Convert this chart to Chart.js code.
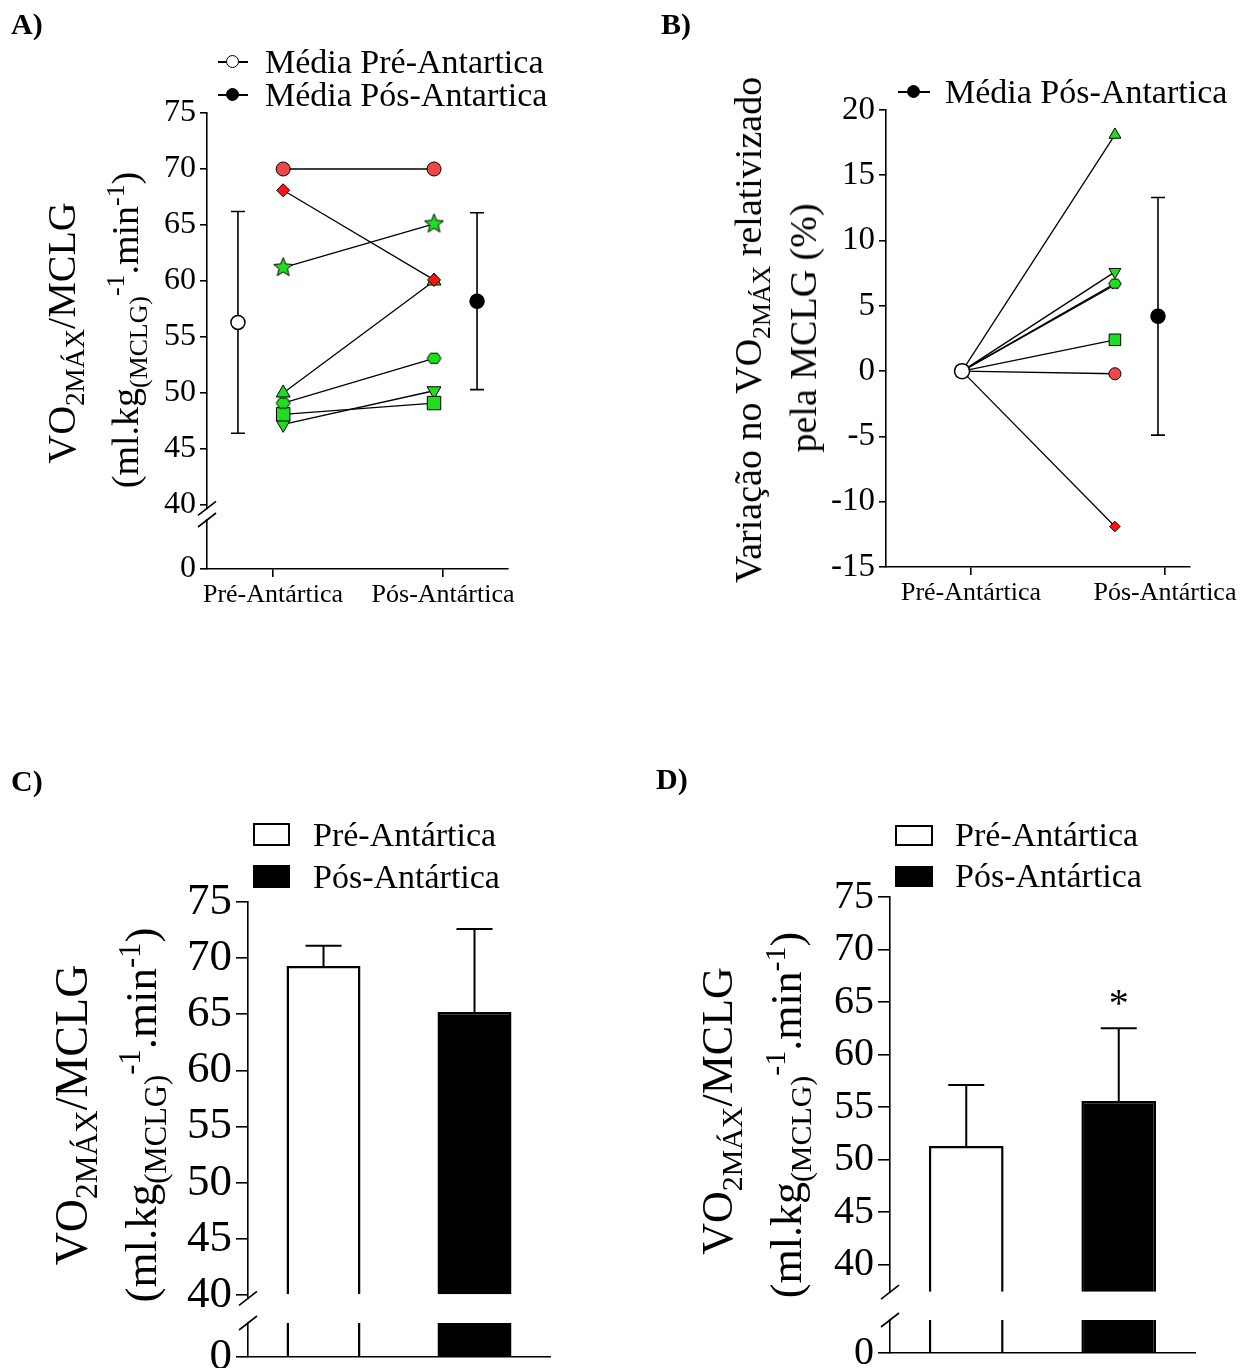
<!DOCTYPE html>
<html>
<head>
<meta charset="utf-8">
<script src="https://cdn.jsdelivr.net/npm/chart.js@4.4.1/dist/chart.umd.min.js"></script>
<style>
  html, body { margin: 0; padding: 0; background: #fff; }
  body { position: relative; width: 1254px; height: 1368px; overflow: hidden;
         font-family: "Liberation Serif", "Times New Roman", serif; color: #000; }
  canvas { position: absolute; }
  .tag { position: absolute; font-weight: bold; font-size: 30px; line-height: 1; }
  .yt { position: absolute; white-space: nowrap; line-height: 1;
        transform: translate(-50%, -50%) rotate(-90deg); }
  .yt sub, .yt sup { font-size: 68%; line-height: 0; }
  .leg { position: absolute; white-space: nowrap; font-size: 34px; line-height: 1; }
  .lline { position: absolute; height: 0; border-top: 2px solid #000; }
  .ldot { position: absolute; width: 11px; height: 11px; border: 1.5px solid #000; border-radius: 50%; }
  .lbox { position: absolute; box-sizing: border-box; border: 2px solid #000; }
</style>
</head>
<body>

<div class="tag" style="left:11px;top:9px">A)</div>
<div class="tag" style="left:661px;top:9px">B)</div>
<div class="tag" style="left:11px;top:766px">C)</div>
<div class="tag" style="left:656px;top:764px">D)</div>

<!-- axis titles -->
<div class="yt" style="left:62px;top:333px;font-size:40px">VO<sub>2MÁX</sub>/MCLG</div>
<div class="yt" style="left:125px;top:330px;font-size:38px">(ml.kg<sub>(MCLG)</sub><sup>-1</sup>.min<sup>-1</sup>)</div>
<div class="yt" style="left:748px;top:330px;font-size:38px">Variação no VO<sub>2MÁX</sub> relativizado</div>
<div class="yt" style="left:803px;top:328px;font-size:38px">pela MCLG (%)</div>
<div class="yt" style="left:72px;top:1115px;font-size:46px">VO<sub>2MÁX</sub>/MCLG</div>
<div class="yt" style="left:141px;top:1115px;font-size:45px">(ml.kg<sub>(MCLG)</sub><sup>-1</sup>.min<sup>-1</sup>)</div>
<div class="yt" style="left:718px;top:1111px;font-size:44px">VO<sub>2MÁX</sub>/MCLG</div>
<div class="yt" style="left:787px;top:1115px;font-size:44px">(ml.kg<sub>(MCLG)</sub><sup>-1</sup>.min<sup>-1</sup>)</div>

<!-- legends -->
<div class="lline" style="left:218px;top:61px;width:30px"></div>
<div class="ldot" style="left:226px;top:55px;background:#fff"></div>
<div class="leg" style="left:265px;top:45px">Média Pré-Antartica</div>
<div class="lline" style="left:218px;top:94px;width:30px"></div>
<div class="ldot" style="left:226px;top:88px;background:#000"></div>
<div class="leg" style="left:265px;top:78px">Média Pós-Antartica</div>

<div class="lline" style="left:898px;top:91px;width:32px"></div>
<div class="ldot" style="left:907px;top:85px;background:#000"></div>
<div class="leg" style="left:945px;top:75px">Média Pós-Antartica</div>

<div class="lbox" style="left:253px;top:823px;width:37px;height:23px;background:#fff"></div>
<div class="leg" style="left:313px;top:818px">Pré-Antártica</div>
<div class="lbox" style="left:253px;top:865px;width:37px;height:23px;background:#000"></div>
<div class="leg" style="left:313px;top:860px">Pós-Antártica</div>

<div class="lbox" style="left:895px;top:825px;width:38px;height:21px;background:#fff"></div>
<div class="leg" style="left:955px;top:818px">Pré-Antártica</div>
<div class="lbox" style="left:895px;top:866px;width:38px;height:21px;background:#000"></div>
<div class="leg" style="left:955px;top:859px">Pós-Antártica</div>

<script>
// ---------- data ----------
var groups = ["Pré-Antártica", "Pós-Antártica"];

// A) individual VO2max/MCLG, same subject order in every panel
var preA  = [70, 68.1, 61.2, 50, 49.1, 48.1, 47.2];
var postA = [70, 60.1, 65.1, 60, 53.1, 49.1, 50.2];
var meanA = [56.3, 58.2];
var sdA   = [9.9, 7.9];

// B) % change after the expedition
var baseB  = [0];
var deltaB = [-0.2, -11.9, 6.6, 18.1, 6.7, 2.4, 7.6];
var meanB  = [4.2];
var sdB    = [9.1];

// C) and D) group means
var meanC = [69.3, 65.2];
var sdC   = [1.8, 7.4];
var meanD = [51.3, 55.6];
var sdD   = [5.8, 6.9];
var sigD  = ["", "*"];

var ticksUpper = [40, 45, 50, 55, 60, 65, 70, 75];
var ticksLower = [0];
var ticksB = [-15, -10, -5, 0, 5, 10, 15, 20];

// ---------- styling ----------
var SERIF = '"Liberation Serif", "Times New Roman", serif';
var GREEN = "#1fdd1f", RED = "#f04848", RED_D = "#ff1212";
Chart.defaults.font.family = SERIF;
Chart.defaults.color = "#000";

function starImg(R, r, fill) {
  var s = Math.ceil(2 * R + 3), c = document.createElement("canvas");
  c.width = c.height = s;
  var g = c.getContext("2d");
  g.translate(s / 2, s / 2);
  g.beginPath();
  for (var k = 0; k < 10; k++) {
    var a = -Math.PI / 2 + k * Math.PI / 5, rr = k % 2 ? r : R;
    g.lineTo(rr * Math.cos(a), rr * Math.sin(a));
  }
  g.closePath();
  g.fillStyle = fill; g.fill();
  g.strokeStyle = "#000"; g.lineWidth = 1; g.stroke();
  return c;
}
function hexImg(R, fill) {
  var s = Math.ceil(2 * R + 3), c = document.createElement("canvas");
  c.width = c.height = s;
  var g = c.getContext("2d");
  g.translate(s / 2, s / 2);
  g.beginPath();
  for (var k = 0; k < 6; k++) {
    var a = k * Math.PI / 3;
    g.lineTo(R * Math.cos(a), R * 0.85 * Math.sin(a));
  }
  g.closePath();
  g.fillStyle = fill; g.fill();
  g.strokeStyle = "#000"; g.lineWidth = 1; g.stroke();
  return c;
}

// one marker per subject
var markers = [
  { style: "circle", r: 7, fill: RED },
  { style: "rectRot", r: 6.5, fill: RED_D },
  { img: function (k) { return starImg(10 * k, 4.4 * k, GREEN); }, r: 10, fill: GREEN },
  { style: "triangle", r: 8, fill: GREEN },
  { img: function (k) { return hexImg(7 * k, GREEN); }, r: 7, fill: GREEN },
  { style: "rect", r: 9.5, fill: GREEN },
  { style: "triangle", rot: 180, r: 8, fill: GREEN }
];

function subjectSets(pre, post, xPre, xPost, sizes, orders) {
  return post.map(function (v, i) {
    var m = markers[i], k = sizes[i];
    return {
      yAxisID: "y",
      data: [{ x: xPre, y: pre[i] }, { x: xPost, y: v }],
      showLine: true, borderColor: "#000", borderWidth: 1.3,
      pointStyle: m.img ? m.img(k) : m.style,
      pointRotation: m.rot || 0,
      pointRadius: m.r * k,
      pointBackgroundColor: m.fill, pointBorderColor: "#000", pointBorderWidth: 1,
      order: orders ? orders[i] : 0
    };
  });
}

// ---------- plugins ----------
var errorBars = {
  id: "errorBars",
  beforeDatasetDraw: function (chart, args) {
    var ds = chart.data.datasets[args.index];
    if (!ds.sd) return;
    var meta = args.meta, ys = chart.scales[meta.yAxisID], ctx = chart.ctx;
    ctx.save();
    ctx.strokeStyle = "#000";
    ctx.lineWidth = ds.errWidth || 1.6;
    meta.data.forEach(function (el, i) {
      var v = meta.controller.getParsed(i).y;
      var top = ys.getPixelForValue(v + ds.sd[i]);
      var bot = ds.errDown ? ys.getPixelForValue(v - ds.sd[i]) : el.y;
      var w = ds.capWidth / 2;
      ctx.beginPath();
      ctx.moveTo(el.x, bot); ctx.lineTo(el.x, top);
      ctx.moveTo(el.x - w, top); ctx.lineTo(el.x + w, top);
      if (ds.errDown) { ctx.moveTo(el.x - w, bot); ctx.lineTo(el.x + w, bot); }
      ctx.stroke();
    });
    ctx.restore();
  },
  afterDatasetsDraw: function (chart) {
    var ctx = chart.ctx;
    chart.data.datasets.forEach(function (ds, di) {
      if (!ds.sig) return;
      var meta = chart.getDatasetMeta(di), ys = chart.scales[meta.yAxisID];
      meta.data.forEach(function (el, i) {
        if (!ds.sig[i]) return;
        var v = meta.controller.getParsed(i).y;
        ctx.save();
        ctx.font = "40px " + SERIF;
        ctx.textAlign = "center";
        ctx.textBaseline = "alphabetic";
        ctx.fillStyle = "#000";
        ctx.fillText(ds.sig[i], el.x, ys.getPixelForValue(v + ds.sd[i]) - 12);
        ctx.restore();
      });
    });
  }
};

// bars on the lower part of a broken axis are cut at that part's top
var clipLow = {
  id: "clipLow",
  beforeDatasetDraw: function (chart, args) {
    if (args.meta.yAxisID !== "yLow") return;
    var s = chart.scales.yLow, a = chart.chartArea, ctx = chart.ctx;
    ctx.save();
    ctx.beginPath();
    ctx.rect(a.left, s.top, a.right - a.left, s.bottom - s.top - 1);
    ctx.clip();
  },
  afterDatasetDraw: function (chart, args) {
    if (args.meta.yAxisID === "yLow") chart.ctx.restore();
  }
};

var axisBreak = {
  id: "axisBreak",
  afterDraw: function (chart, args, opts) {
    var hi = chart.scales.y, lo = chart.scales.yLow, ctx = chart.ctx;
    var x = hi.right;
    var y1 = hi.getPixelForValue(opts.at), y2 = lo.top;
    ctx.save();
    ctx.fillStyle = "#fff";
    ctx.fillRect(x - 4, y1 + 1, 8, y2 - y1 - 2);
    ctx.strokeStyle = "#000";
    ctx.lineWidth = 1.6;
    [y1, y2].forEach(function (yy) {
      ctx.beginPath();
      ctx.moveTo(x - 9, yy + 7);
      ctx.lineTo(x + 9, yy - 7);
      ctx.stroke();
    });
    ctx.restore();
  }
};

// ---------- helpers ----------
function mount(box) {
  var c = document.createElement("canvas");
  c.width = box.w; c.height = box.h;
  c.style.left = box.x + "px"; c.style.top = box.y + "px";
  c.style.width = box.w + "px"; c.style.height = box.h + "px";
  document.body.insertBefore(c, document.body.firstChild);
  return c.getContext("2d");
}
function frame(box, area) {
  return {
    padding: { top: area.top - box.y, right: box.x + box.w - area.right, left: 0, bottom: 0 },
    yWidth: area.left - box.x,
    xHeight: box.y + box.h - area.bottom
  };
}
function yAxis(o) {
  return {
    type: "linear", position: "left", min: o.min, max: o.max,
    stack: o.stack, stackWeight: o.weight, weight: o.order || 0,
    border: { color: "#000", width: 1.6 },
    grid: { drawOnChartArea: false, color: "#000", lineWidth: 1.6, tickLength: o.tickLen },
    ticks: { color: "#000", font: { family: SERIF, size: o.font }, padding: 4, autoSkip: false,
             callback: function (v) { return String(v); } },
    afterBuildTicks: function (s) { s.ticks = o.ticks.map(function (v) { return { value: v }; }); },
    afterFit: function (s) { s.width = o.width; }
  };
}
function xLinear(min, max, height) {
  return {
    type: "linear", position: "bottom", min: min, max: max,
    border: { color: "#000", width: 1.6 },
    grid: { drawOnChartArea: false, color: "#000", lineWidth: 1.6, tickLength: 8 },
    ticks: { color: "#000", font: { family: SERIF, size: 26 }, padding: 3,
             autoSkip: false, maxRotation: 0,
             callback: function (v) { return groups[Math.round(v) - 1] || ""; } },
    afterBuildTicks: function (s) { s.ticks = [{ value: 1 }, { value: 2 }]; },
    afterFit: function (s) { s.height = height; }
  };
}
function xCat(height) {
  return {
    type: "category", position: "bottom",
    border: { color: "#000", width: 1.6 },
    grid: { display: false },
    ticks: { display: false },
    afterFit: function (s) { s.height = height; }
  };
}
function baseOptions(fr) {
  return {
    responsive: false, devicePixelRatio: 1, animation: false,
    layout: { padding: fr.padding },
    plugins: { legend: { display: false }, tooltip: { enabled: false } }
  };
}

// ---------- A ----------
(function () {
  var box = { x: 0, y: 0, w: 627, h: 640 };
  var fr = frame(box, { left: 207, top: 113, right: 508, bottom: 569 });
  var X_PRE = 1.06, X_POST = 1.947, X_MEAN = [0.794, 2.2];
  var sets = subjectSets(preA, postA, X_PRE, X_POST, [1, 1, 1, 1, 1, 1, 1]);
  sets.push({
    yAxisID: "y",
    data: [{ x: X_MEAN[0], y: meanA[0] }], sd: [sdA[0]], errDown: true, capWidth: 14,
    pointStyle: "circle", pointRadius: 7, pointBackgroundColor: "#fff",
    pointBorderColor: "#000", pointBorderWidth: 1.5
  });
  sets.push({
    yAxisID: "y",
    data: [{ x: X_MEAN[1], y: meanA[1] }], sd: [sdA[1]], errDown: true, capWidth: 14,
    pointStyle: "circle", pointRadius: 7, pointBackgroundColor: "#000",
    pointBorderColor: "#000", pointBorderWidth: 1.5
  });
  var opt = baseOptions(fr);
  opt.plugins.axisBreak = { at: 39.7 };
  opt.scales = {
    x: xLinear(0.612, 2.382, fr.xHeight),
    yLow: yAxis({ min: 0, max: 4.375, ticks: ticksLower, stack: "v", weight: 49, order: 0,
                  font: 32, tickLen: 7, width: fr.yWidth }),
    y: yAxis({ min: 38.66, max: 75, ticks: ticksUpper, stack: "v", weight: 407, order: 1,
               font: 32, tickLen: 7, width: fr.yWidth })
  };
  new Chart(mount(box), { type: "scatter", data: { datasets: sets }, options: opt,
                          plugins: [errorBars, axisBreak] });
})();

// ---------- B ----------
(function () {
  var box = { x: 627, y: 0, w: 627, h: 640 };
  var fr = frame(box, { left: 886, top: 110, right: 1190, bottom: 567 });
  var X_PRE = 0.954, X_POST = 1.742, X_MEAN = 1.964;
  var pre = deltaB.map(function () { return baseB[0]; });
  // the star sits under the hexagon here, so it is kept small
  var sets = subjectSets(pre, deltaB, X_PRE, X_POST,
                         [0.86, 0.8, 0.45, 0.86, 0.9, 0.86, 0.86], [0, 0, 1, 0, 0, 0, 0]);
  sets.unshift({
    yAxisID: "y",
    data: [{ x: X_PRE, y: baseB[0] }], order: -1,
    pointStyle: "circle", pointRadius: 7.5, pointBackgroundColor: "#fff",
    pointBorderColor: "#000", pointBorderWidth: 1.5
  });
  sets.push({
    yAxisID: "y",
    data: [{ x: X_MEAN, y: meanB[0] }], sd: sdB, errDown: true, capWidth: 14,
    pointStyle: "circle", pointRadius: 7, pointBackgroundColor: "#000",
    pointBorderColor: "#000", pointBorderWidth: 1.5
  });
  var opt = baseOptions(fr);
  opt.scales = {
    x: xLinear(0.562, 2.129, fr.xHeight),
    y: yAxis({ min: -15, max: 20, ticks: ticksB, font: 33, tickLen: 7, width: fr.yWidth })
  };
  new Chart(mount(box), { type: "scatter", data: { datasets: sets }, options: opt,
                          plugins: [errorBars] });
})();

// ---------- C and D (bars on a broken axis) ----------
function barPanel(box, area, lowTop, mean, sd, sig, rng) {
  var fr = frame(box, area);
  var fill = ["#fff", "#000"];
  var sets = [
    { yAxisID: "y", data: mean.slice(), base: rng.base, sd: sd, sig: sig, capWidth: 36, errWidth: 2,
      backgroundColor: fill, borderColor: "#000", borderWidth: 2.5 },
    { yAxisID: "yLow", data: mean.slice(),
      backgroundColor: fill, borderColor: "#000", borderWidth: 2.5 }
  ];
  var opt = baseOptions(fr);
  opt.plugins.axisBreak = { at: rng.breakAt };
  opt.datasets = { bar: { grouped: false, categoryPercentage: 0.49, barPercentage: 1 } };
  opt.scales = {
    x: xCat(fr.xHeight),
    yLow: yAxis({ min: 0, max: rng.lowMax, ticks: ticksLower, stack: "v",
                  weight: area.bottom - lowTop, order: 0,
                  font: rng.font, tickLen: 12, width: fr.yWidth }),
    y: yAxis({ min: rng.min, max: 75, ticks: ticksUpper, stack: "v",
               weight: lowTop - area.top, order: 1,
               font: rng.font, tickLen: 12, width: fr.yWidth })
  };
  new Chart(mount(box), { type: "bar", data: { labels: groups, datasets: sets }, options: opt,
                          plugins: [clipLow, errorBars, axisBreak] });
}

barPanel({ x: 0, y: 684, w: 627, h: 720 }, { left: 248, top: 902, right: 550, bottom: 1357 }, 1323,
         meanC, sdC, null, { min: 37.51, lowMax: 3.03, base: 40, breakAt: 39.7, font: 45 });
barPanel({ x: 627, y: 684, w: 627, h: 720 }, { left: 890, top: 897, right: 1195, bottom: 1353 }, 1320,
         meanD, sdD, sigD, { min: 34.75, lowMax: 3.14, base: 37.43, breakAt: 37.4, font: 40 });
</script>
</body>
</html>
